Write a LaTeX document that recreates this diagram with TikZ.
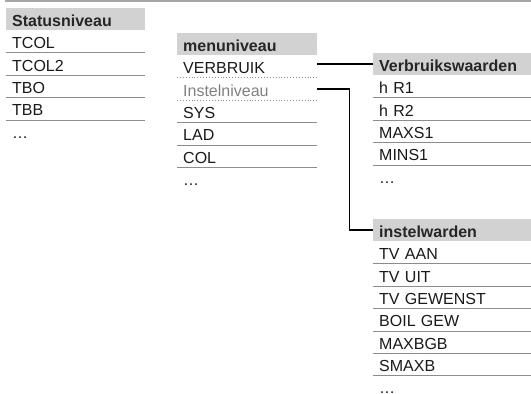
\documentclass[tikz,border=0pt]{standalone}
\usepackage{fontspec}
\setmainfont{Liberation Sans}
\usetikzlibrary{positioning}

\begin{document}
\begin{tikzpicture}[x=1pt, y=-1pt,
  every node/.style={font=\fontsize{16}{19}\selectfont},
  itm/.style={anchor=north west, inner xsep=6pt, inner ysep=0pt, minimum height=22pt,
    text width=#1, align=left, text height=15pt, text depth=1pt, text=black!90},
  itm/.default=127pt,
  hdr/.style={itm=#1, fill=gray!35, font=\fontsize{16}{19}\selectfont\bfseries, text=black!85},
  hdr/.default=127pt,
  sep/.style={gray!90, line width=0.9pt},
  dotsep/.style={sep, dotted},
  con/.style={black, line width=1.8pt}]
  \useasboundingbox (0,0) rectangle (531,394);
  \draw[gray!70, line width=1.5pt] (5,1) -- (531,1);
  % status level
  \node[hdr] (sn) at (6,8) {Statusniveau};
  \node[itm, below=0pt of sn] (tcol) {TCOL};
  \node[itm, below=0pt of tcol] (tcolb) {TCOL2};
  \node[itm, below=0pt of tcolb] (tbo) {TBO};
  \node[itm, below=0pt of tbo] (tbb) {TBB};
  \node[itm, below=0pt of tbb] (snx) {\ldots};
  \foreach \n in {tcol,tcolb,tbo,tbb}
    \draw[sep] (\n.south west) -- (\n.south east);
  % menu level
  \node[hdr=128pt] (mn) at (177,33) {menuniveau};
  \node[itm=128pt, below=0pt of mn] (verbruik) {VERBRUIK};
  \node[itm=128pt, below=0pt of verbruik, text=gray] (instel) {Instelniveau};
  \node[itm=128pt, below=0pt of instel] (sys) {SYS};
  \node[itm=128pt, below=0pt of sys] (lad) {LAD};
  \node[itm=128pt, below=0pt of lad] (col) {COL};
  \node[itm=128pt, below=0pt of col] (mnx) {\ldots};
  \foreach \n in {verbruik,instel}
    \draw[dotsep] (\n.south west) -- (\n.south east);
  \foreach \n in {sys,lad,col}
    \draw[sep] (\n.south west) -- (\n.south east);
  % consumption values
  \node[hdr=150pt] (vw) at (373,53) {Verbruikswaarden};
  \node[itm=150pt, below=0pt of vw] (hra) {h R1};
  \node[itm=150pt, below=0pt of hra] (hrb) {h R2};
  \node[itm=150pt, below=0pt of hrb] (maxs) {MAXS1};
  \node[itm=150pt, below=0pt of maxs] (mins) {MINS1};
  \node[itm=150pt, below=0pt of mins] (vwx) {\ldots};
  \foreach \n in {hra,hrb,maxs,mins}
    \draw[sep] (\n.south west) -- (\n.south east);
  % setting values
  \node[hdr=150pt] (iw) at (373,219) {instelwarden};
  \node[itm=150pt, below=0pt of iw] (tvaan) {TV AAN};
  \node[itm=150pt, below=0pt of tvaan] (tvuit) {TV UIT};
  \node[itm=150pt, below=0pt of tvuit] (tvgew) {TV GEWENST};
  \node[itm=150pt, below=0pt of tvgew] (boil) {BOIL GEW};
  \node[itm=150pt, below=0pt of boil] (maxb) {MAXBGB};
  \node[itm=150pt, below=0pt of maxb] (smaxb) {SMAXB};
  \node[itm=150pt, below=0pt of smaxb, minimum height=19pt, text height=16pt, text depth=0pt] (iwx) {\ldots};
  \foreach \n in {tvaan,tvuit,tvgew,boil,maxb,smaxb}
    \draw[sep] (\n.south west) -- (\n.south east);
  % connectors
  \draw[con] (vw.west) -- (vw.west -| verbruik.east);
  \draw[con] (instel.east) -- ++(32,0) |- (iw.west);
\end{tikzpicture}
\end{document}
